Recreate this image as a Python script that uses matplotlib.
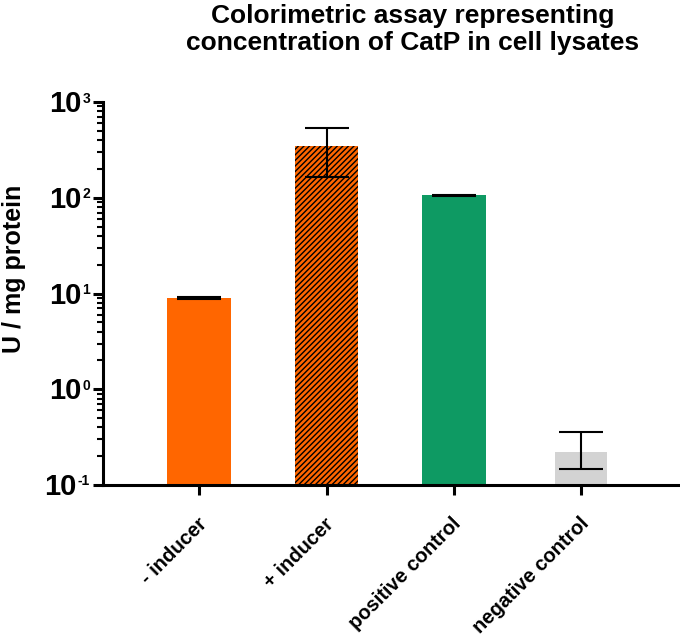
import matplotlib
matplotlib.use("Agg")
import matplotlib.pyplot as plt
import matplotlib.transforms as mtransforms
import numpy as np

plt.rcParams['font.family'] = ['Liberation Sans', 'DejaVu Sans']
plt.rcParams['hatch.linewidth'] = 1.0

categories = ['- inducer', '+ inducer', 'positive control', 'negative control']
values = [9.0, 347.0, 106.0, 0.223]
err_lower = [0.3, 181.0, 1.0, 0.076]
err_upper = [0.2, 184.0, 1.0, 0.137]
ytick_vals = [0.1, 1, 10, 100, 1000]
ytick_exps = ['-1', '0', '1', '2', '3']

colors = ['#FF6600', '#FF6600', '#0E9A63', '#D3D3D3']
hatches = [None, '//////', None, None]
bar_widths = [0.50, 0.50, 0.50, 0.41]

fig = plt.figure(figsize=(6.8, 6.4), dpi=100)
ax = fig.add_axes([0.1515, 0.2422, 0.8455, 0.5984])

x = np.arange(len(categories))
for i in range(len(categories)):
    ax.bar(x[i], values[i], width=bar_widths[i], color=colors[i], hatch=hatches[i],
           edgecolor='black' if hatches[i] else colors[i], linewidth=0, zorder=2)
ax.errorbar(x, values, yerr=[err_lower, err_upper], fmt='none', ecolor='black',
            elinewidth=1.5, capsize=16, capthick=1.5, zorder=3)

ax.set_yscale('log')
ax.set_ylim(0.1, 1000)
ax.set_xlim(-0.755, 3.76)
ax.set_yticks(ytick_vals)
ax.yaxis.set_minor_locator(matplotlib.ticker.LogLocator(base=10, subs=np.arange(2, 10)))
ax.yaxis.set_minor_formatter(matplotlib.ticker.NullFormatter())
ax.tick_params(axis='y', which='both', labelleft=False)

ax.set_xticks(x)
ax.set_xticklabels([])

for s in ['top', 'right']:
    ax.spines[s].set_visible(False)
for s in ['left', 'bottom']:
    ax.spines[s].set_linewidth(2.2)

ax.tick_params(axis='y', which='major', length=7, width=2.2)
ax.tick_params(axis='y', which='minor', length=4, width=1.5)
ax.tick_params(axis='x', which='major', length=7, width=2.2)

# x category labels
base_x = mtransforms.blended_transform_factory(ax.transData, ax.transAxes)
off_x = mtransforms.ScaledTranslation(0.045, -0.36, fig.dpi_scale_trans)
for xi, lab in zip(x, categories):
    ax.text(xi, 0, lab, transform=base_x + off_x, rotation=45, ha='right', va='center',
            rotation_mode='anchor', fontsize=14.5, fontweight='bold', clip_on=False)

# y tick labels as 10 with small superscript
base_y = mtransforms.blended_transform_factory(ax.transAxes, ax.transData)
off_sup = mtransforms.ScaledTranslation(-0.13, -0.005, fig.dpi_scale_trans)
sups = []
for v, e in zip(ytick_vals, ytick_exps):
    s = ax.text(0, v, e, transform=base_y + off_sup, ha='right', va='baseline',
                fontsize=10, fontweight='bold', clip_on=False)
    sups.append(s)
fig.canvas.draw()
renderer = fig.canvas.get_renderer()
for v, s in zip(ytick_vals, sups):
    w = s.get_window_extent(renderer).width
    off_ten = mtransforms.ScaledTranslation(-(13 + w + 1) / 100, -0.10, fig.dpi_scale_trans)
    ax.text(0, v, '10', transform=base_y + off_ten, ha='right', va='baseline',
            fontsize=21, fontweight='bold', clip_on=False)

fig.text(0.021, 0.580, 'U / mg protein', rotation=90, ha='center', va='center',
         fontsize=18, fontweight='bold')
fig.text(0.607, 0.994, 'Colorimetric assay representing\nconcentration of CatP in cell lysates',
         ha='center', va='top', fontsize=19, fontweight='bold', linespacing=1.15)

fig.savefig('out.png', dpi=100)
